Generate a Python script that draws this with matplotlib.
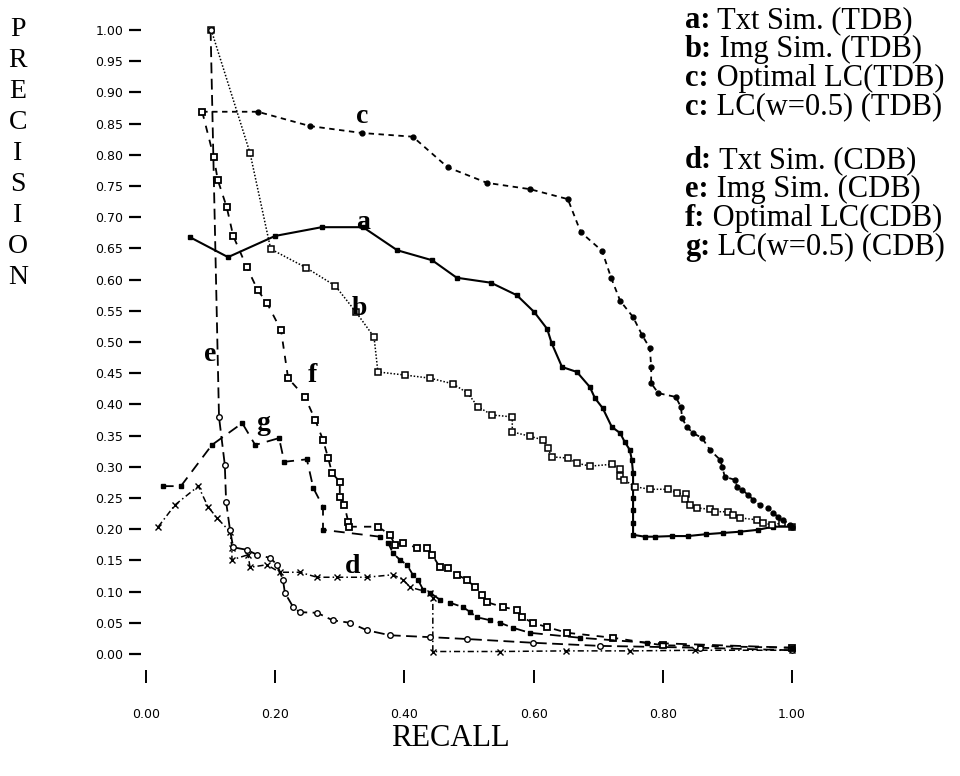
import matplotlib
matplotlib.use("Agg")
import matplotlib.pyplot as plt
import numpy as np

# a: Txt Sim. (TDB)
a_recall = [0.068, 0.127, 0.200, 0.272, 0.336, 0.389, 0.443, 0.481, 0.534, 0.574, 0.601, 0.621,
            0.628, 0.644, 0.667, 0.687, 0.695, 0.707, 0.721, 0.734, 0.741, 0.749, 0.752, 0.754,
            0.754, 0.754, 0.754, 0.754, 0.754, 0.772, 0.788, 0.814, 0.839, 0.867, 0.893, 0.920,
            0.947, 0.971, 1.0]
a_prec = [0.668, 0.636, 0.670, 0.684, 0.684, 0.647, 0.631, 0.603, 0.595, 0.575, 0.548, 0.521,
          0.498, 0.460, 0.452, 0.428, 0.410, 0.394, 0.364, 0.354, 0.340, 0.327, 0.311, 0.290,
          0.268, 0.250, 0.230, 0.210, 0.191, 0.188, 0.188, 0.189, 0.189, 0.192, 0.194, 0.196,
          0.199, 0.204, 0.204]

# b: Img Sim. (TDB)
b_recall = [0.101, 0.161, 0.193, 0.248, 0.293, 0.325, 0.353, 0.359, 0.401, 0.440, 0.475, 0.498,
            0.514, 0.536, 0.567, 0.567, 0.594, 0.615, 0.622, 0.628, 0.653, 0.667, 0.687, 0.721,
            0.734, 0.734, 0.740, 0.757, 0.780, 0.808, 0.822, 0.836, 0.834, 0.842, 0.853, 0.873,
            0.881, 0.901, 0.909, 0.920, 0.946, 0.955, 0.969, 0.985, 1.0]
b_prec = [1.0, 0.803, 0.649, 0.619, 0.590, 0.548, 0.508, 0.452, 0.447, 0.442, 0.433, 0.418,
          0.396, 0.383, 0.380, 0.356, 0.349, 0.343, 0.330, 0.316, 0.314, 0.306, 0.301, 0.304,
          0.296, 0.285, 0.279, 0.268, 0.264, 0.264, 0.258, 0.256, 0.248, 0.239, 0.234, 0.232,
          0.228, 0.228, 0.223, 0.218, 0.215, 0.210, 0.207, 0.210, 0.204]

# c: Optimal LC (TDB)
c_recall = [0.087, 0.173, 0.254, 0.334, 0.413, 0.467, 0.528, 0.594, 0.653, 0.673, 0.706, 0.720,
            0.734, 0.754, 0.768, 0.780, 0.782, 0.782, 0.793, 0.820, 0.828, 0.830, 0.837, 0.847,
            0.861, 0.873, 0.889, 0.892, 0.896, 0.912, 0.915, 0.923, 0.932, 0.940, 0.950, 0.963,
            0.971, 0.978, 0.986, 0.997, 1.0]
c_prec = [0.869, 0.869, 0.846, 0.835, 0.829, 0.780, 0.755, 0.745, 0.729, 0.676, 0.646, 0.603,
          0.566, 0.540, 0.511, 0.490, 0.460, 0.434, 0.418, 0.412, 0.396, 0.378, 0.364, 0.354,
          0.346, 0.327, 0.311, 0.300, 0.284, 0.279, 0.268, 0.263, 0.255, 0.247, 0.239, 0.234,
          0.226, 0.220, 0.215, 0.207, 0.204]

# d: Txt Sim. (CDB)
d_recall = [0.019, 0.045, 0.081, 0.096, 0.110, 0.130, 0.133, 0.133, 0.158, 0.161, 0.187, 0.207,
            0.238, 0.265, 0.296, 0.342, 0.382, 0.398, 0.409, 0.440, 0.444, 0.444, 0.548, 0.650,
            0.750, 0.850, 1.0]
d_prec = [0.204, 0.239, 0.269, 0.236, 0.218, 0.196, 0.170, 0.151, 0.159, 0.139, 0.143, 0.131,
          0.131, 0.123, 0.123, 0.123, 0.127, 0.119, 0.107, 0.098, 0.090, 0.004, 0.004, 0.005,
          0.005, 0.006, 0.006]

# e: Img Sim. (CDB)
e_recall = [0.100, 0.113, 0.122, 0.124, 0.130, 0.135, 0.156, 0.172, 0.192, 0.203, 0.212, 0.215,
            0.228, 0.238, 0.265, 0.289, 0.316, 0.342, 0.378, 0.440, 0.497, 0.599, 0.703, 0.858,
            1.0]
e_prec = [1.0, 0.380, 0.303, 0.244, 0.199, 0.171, 0.167, 0.159, 0.154, 0.143, 0.119, 0.098,
          0.075, 0.067, 0.066, 0.054, 0.050, 0.038, 0.030, 0.027, 0.024, 0.018, 0.013, 0.010,
          0.006]

# f: Optimal LC (CDB)
f_recall = [0.087, 0.105, 0.111, 0.125, 0.135, 0.156, 0.173, 0.187, 0.209, 0.220, 0.246, 0.262,
            0.274, 0.282, 0.288, 0.300, 0.300, 0.307, 0.313, 0.314, 0.359, 0.378, 0.385, 0.398,
            0.420, 0.435, 0.443, 0.455, 0.467, 0.481, 0.497, 0.509, 0.520, 0.528, 0.553, 0.574,
            0.582, 0.599, 0.621, 0.652, 0.723, 0.800, 1.0]
f_prec = [0.869, 0.796, 0.760, 0.716, 0.670, 0.620, 0.583, 0.563, 0.519, 0.442, 0.412, 0.375,
          0.343, 0.314, 0.290, 0.276, 0.252, 0.239, 0.212, 0.204, 0.204, 0.191, 0.175, 0.178,
          0.170, 0.170, 0.159, 0.139, 0.138, 0.127, 0.119, 0.107, 0.095, 0.083, 0.075, 0.071,
          0.059, 0.050, 0.043, 0.034, 0.026, 0.014, 0.010]

# g: LC(w=0.5) (CDB)
g_recall = [0.026, 0.054, 0.102, 0.149, 0.169, 0.206, 0.214, 0.249, 0.259, 0.274, 0.274, 0.362,
            0.375, 0.382, 0.393, 0.404, 0.413, 0.421, 0.429, 0.440, 0.455, 0.471, 0.491, 0.502,
            0.512, 0.533, 0.548, 0.568, 0.594, 0.672, 0.776, 1.0]
g_prec = [0.269, 0.269, 0.335, 0.370, 0.335, 0.346, 0.308, 0.312, 0.266, 0.236, 0.199, 0.188,
          0.178, 0.162, 0.151, 0.143, 0.127, 0.119, 0.103, 0.098, 0.087, 0.082, 0.075, 0.067,
          0.059, 0.054, 0.050, 0.042, 0.034, 0.026, 0.018, 0.010]

legend_top = ["a: Txt Sim. (TDB)", "b: Img Sim. (TDB)", "c: Optimal LC(TDB)", "c: LC(w=0.5) (TDB)"]
legend_bottom = ["d: Txt Sim. (CDB)", "e: Img Sim. (CDB)", "f: Optimal LC(CDB)", "g: LC(w=0.5) (CDB)"]
curve_labels = {"c": (0.325, 0.851), "a": (0.325, 0.681), "b": (0.319, 0.543), "e": (0.090, 0.470),
                "f": (0.251, 0.436), "g": (0.170, 0.359), "d": (0.308, 0.130)}
y_ticks = np.round(np.arange(0, 1.0001, 0.05), 2)
x_ticks = [0.0, 0.2, 0.4, 0.6, 0.8, 1.0]

serif = "Liberation Serif"

fig = plt.figure(figsize=(9.6, 7.76), dpi=100)
ax = fig.add_axes([141 / 960, 106 / 776, 659 / 960, 650 / 776])
ax.set_xlim(-0.00774, 1.0124)
ax.set_ylim(-0.02564, 1.01603)
for s in ax.spines.values():
    s.set_visible(False)

ax.plot(a_recall, a_prec, color="black", lw=1.5, marker="s", ms=3.5, mfc="black")
ax.plot(b_recall, b_prec, color="black", lw=1.1, ls=(0, (1, 1.2)), marker="s", ms=4.5,
        mfc="white", mew=1.1)
ax.plot(c_recall, c_prec, color="black", lw=1.3, ls=(0, (3, 2.5)), marker="o", ms=3.5,
        mfc="black")
ax.plot(d_recall, d_prec, color="black", lw=1.1, ls=(0, (4, 2, 1, 2)), marker="x", ms=4,
        mew=1.0)
ax.plot(e_recall, e_prec, color="black", lw=1.3, ls=(0, (6, 3)), marker="o", ms=4,
        mfc="white", mew=1.0)
ax.plot(f_recall, f_prec, color="black", lw=1.3, ls=(0, (4, 4)), marker="s", ms=4.5,
        mfc="white", mew=1.3)
ax.plot(g_recall, g_prec, color="black", lw=1.3, ls=(0, (6, 4)), marker="s", ms=3.5,
        mfc="black")

for name, (x, y) in curve_labels.items():
    ax.text(x, y, name, fontsize=20, fontweight="bold", family=serif, ha="left", va="baseline")

ax.set_yticks(y_ticks)
ax.set_yticklabels([f"{v:.2f}" for v in y_ticks], fontsize=9)
ax.set_xticks(x_ticks)
ax.set_xticklabels([f"{v:.2f}" for v in x_ticks], fontsize=9)
ax.tick_params(axis="y", direction="out", length=8.6, width=1.6, pad=4)
ax.tick_params(axis="x", direction="out", length=9.4, width=1.4, pad=18)

for i, ch in enumerate("PRECISION"):
    fig.text(18 / 960, 1 - (29 + i * 31.1) / 776, ch, fontsize=20, family=serif,
             ha="center", va="center")
fig.text(450 / 960, 1 - 738 / 776, "RECALL", fontsize=22, family=serif, ha="center", va="center")

for rows, start in ((legend_top, 21), (legend_bottom, 161)):
    for i, line in enumerate(rows):
        y = 1 - (start + i * 28.7) / 776
        key, rest = line.split(":", 1)
        t = fig.text(685 / 960, y, key + ":", fontsize=22, fontweight="bold", family=serif,
                     ha="left", va="center")
        fig.canvas.draw()
        bb = t.get_window_extent()
        fig.text(bb.x1 / 960, y, rest, fontsize=22, family=serif, ha="left", va="center")

fig.savefig("out.png", dpi=100, facecolor="white")
